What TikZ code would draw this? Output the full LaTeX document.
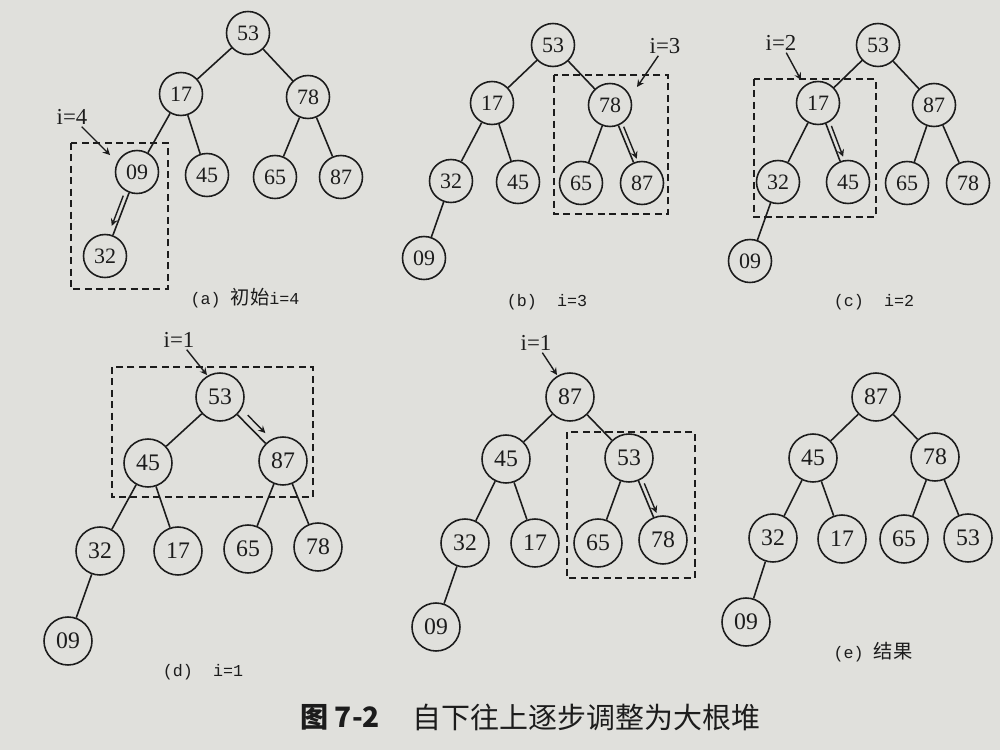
\documentclass[tikz,border=0pt]{standalone}
\usepackage{fontspec}
\setmainfont{Liberation Serif}
\newfontfamily\cjk{Noto Sans CJK SC}
\newfontfamily\capmono{Liberation Mono}
\usepackage{tikz}
\usepackage{xcolor}
\usetikzlibrary{calc}
\definecolor{paper}{RGB}{224,224,220}
\definecolor{ink}{RGB}{28,28,28}

\begin{document}
\begin{tikzpicture}[x=0.02cm,y=-0.02cm,
  hn/.style={circle,draw=ink,line width=0.9pt,minimum size=0.86cm,inner sep=0pt,text=ink,font=\fontsize{12.5}{14}\selectfont},
  hnb/.style={hn,minimum size=0.96cm,font=\fontsize{13.5}{15}\selectfont},
  tree/.style={ink,line width=0.9pt},
  dbox/.style={ink,line width=0.9pt,dash pattern=on 4pt off 2.5pt},
  swp/.style={ink,line width=0.8pt,->,>=stealth},
  ilab/.style={text=ink,inner sep=1pt,font=\fontsize{13}{15}\selectfont},
  captext/.style={text=ink,font=\capmono\fontsize{9.5}{11}\selectfont}]
\useasboundingbox (0,0) rectangle (1000,750);
\fill[paper] (0,0) rectangle (1000,750);

% (a)
\node[hn] (a1) at (248,33) {53};
\node[hn] (a2) at (181,94) {17};
\node[hn] (a3) at (308,97) {78};
\node[hn] (a4) at (137,172) {09};
\node[hn] (a5) at (207,175) {45};
\node[hn] (a6) at (275,177) {65};
\node[hn] (a7) at (341,177) {87};
\node[hn] (a8) at (105,256) {32};
\draw[tree] (a1) -- (a2) (a1) -- (a3) (a2) -- (a4) (a2) -- (a5) (a3) -- (a6) (a3) -- (a7) (a4) -- (a8);
\draw[dbox] (71,143) rectangle (168,289);
\draw[swp] ($(a4)!.30!(a8)!2.5pt!-90:(a8)$) -- ($(a4)!.66!(a8)!2.5pt!-90:(a8)$);
\node[ilab] (ia) at (72,117) {i=4};
\coordinate (ta) at (110,155);
\draw[swp] (ia) -- (ta);
\node[captext] (capa) at (245,298) {(a)\ {\cjk\fontsize{11}{12}\selectfont 初始}i=4};

% (b)
\node[hn] (b1) at (553,45) {53};
\node[hn] (b2) at (492,103) {17};
\node[hn] (b3) at (610,105) {78};
\node[hn] (b4) at (451,181) {32};
\node[hn] (b5) at (518,182) {45};
\node[hn] (b6) at (581,183) {65};
\node[hn] (b7) at (642,183) {87};
\node[hn] (b8) at (424,258) {09};
\draw[tree] (b1) -- (b2) (b1) -- (b3) (b2) -- (b4) (b2) -- (b5) (b3) -- (b6) (b3) -- (b7) (b4) -- (b8);
\draw[dbox] (554,75) rectangle (668,214);
\draw[swp] ($(b3)!.30!(b7)!2.5pt!90:(b7)$) -- ($(b3)!.71!(b7)!2.5pt!90:(b7)$);
\node[ilab] (ib) at (665,46) {i=3};
\coordinate (tb) at (637,87);
\draw[swp] (ib) -- (tb);
\node[captext] (capb) at (547,302) {(b)\ \ i=3};

% (c)
\node[hn] (c1) at (878,45) {53};
\node[hn] (c2) at (818,103) {17};
\node[hn] (c3) at (934,105) {87};
\node[hn] (c4) at (778,182) {32};
\node[hn] (c5) at (848,182) {45};
\node[hn] (c6) at (907,183) {65};
\node[hn] (c7) at (968,183) {78};
\node[hn] (c8) at (750,261) {09};
\draw[tree] (c1) -- (c2) (c1) -- (c3) (c2) -- (c4) (c2) -- (c5) (c3) -- (c6) (c3) -- (c7) (c4) -- (c8);
\draw[dbox] (754,79) rectangle (876,217);
\draw[swp] ($(c2)!.31!(c5)!2.5pt!90:(c5)$) -- ($(c2)!.70!(c5)!2.5pt!90:(c5)$);
\node[ilab] (ic) at (781,43) {i=2};
\coordinate (tc) at (801,80);
\draw[swp] (ic) -- (tc);
\node[captext] (capc) at (874,302) {(c)\ \ i=2};

% (d)
\node[hnb] (d1) at (220,397) {53};
\node[hnb] (d2) at (148,463) {45};
\node[hnb] (d3) at (283,461) {87};
\node[hnb] (d4) at (100,551) {32};
\node[hnb] (d5) at (178,551) {17};
\node[hnb] (d6) at (248,549) {65};
\node[hnb] (d7) at (318,547) {78};
\node[hnb] (d8) at (68,641) {09};
\draw[tree] (d1) -- (d2) (d1) -- (d3) (d2) -- (d4) (d2) -- (d5) (d3) -- (d6) (d3) -- (d7) (d4) -- (d8);
\draw[dbox] (112,367) rectangle (313,497);
\draw[swp] ($(d1)!.36!(d3)!4pt!90:(d3)$) -- ($(d1)!.64!(d3)!4pt!90:(d3)$);
\node[ilab] (id) at (179,340) {i=1};
\coordinate (td) at (207,375);
\draw[swp] (id) -- (td);
\node[captext] (capd) at (203,672) {(d)\ \ i=1};

% (d) continued
\node[hnb] (e1) at (570,397) {87};
\node[hnb] (e2) at (506,459) {45};
\node[hnb] (e3) at (629,458) {53};
\node[hnb] (e4) at (465,543) {32};
\node[hnb] (e5) at (535,543) {17};
\node[hnb] (e6) at (598,543) {65};
\node[hnb] (e7) at (663,540) {78};
\node[hnb] (e8) at (436,627) {09};
\draw[tree] (e1) -- (e2) (e1) -- (e3) (e2) -- (e4) (e2) -- (e5) (e3) -- (e6) (e3) -- (e7) (e4) -- (e8);
\draw[dbox] (567,432) rectangle (695,578);
\draw[swp] ($(e3)!.33!(e7)!2.5pt!90:(e7)$) -- ($(e3)!.69!(e7)!2.5pt!90:(e7)$);
\node[ilab] (ie) at (536,343) {i=1};
\coordinate (te) at (557,375);
\draw[swp] (ie) -- (te);

% (e)
\node[hnb] (f1) at (876,397) {87};
\node[hnb] (f2) at (813,458) {45};
\node[hnb] (f3) at (935,457) {78};
\node[hnb] (f4) at (773,538) {32};
\node[hnb] (f5) at (842,539) {17};
\node[hnb] (f6) at (904,539) {65};
\node[hnb] (f7) at (968,538) {53};
\node[hnb] (f8) at (746,622) {09};
\draw[tree] (f1) -- (f2) (f1) -- (f3) (f2) -- (f4) (f2) -- (f5) (f3) -- (f6) (f3) -- (f7) (f4) -- (f8);
\node[captext] (cape) at (873,652) {(e)\ {\cjk\fontsize{11}{12}\selectfont 结果}};

% caption
\node[anchor=west,text=ink,inner sep=0pt,font=\cjk\bfseries\fontsize{16}{18}\selectfont] (fig) at (300,717) {图 7-2};
\node[anchor=west,text=ink,inner sep=0pt,font=\cjk\fontsize{16.5}{18}\selectfont] (title) at (412,717) {自下往上逐步调整为大根堆};
\end{tikzpicture}
\end{document}
